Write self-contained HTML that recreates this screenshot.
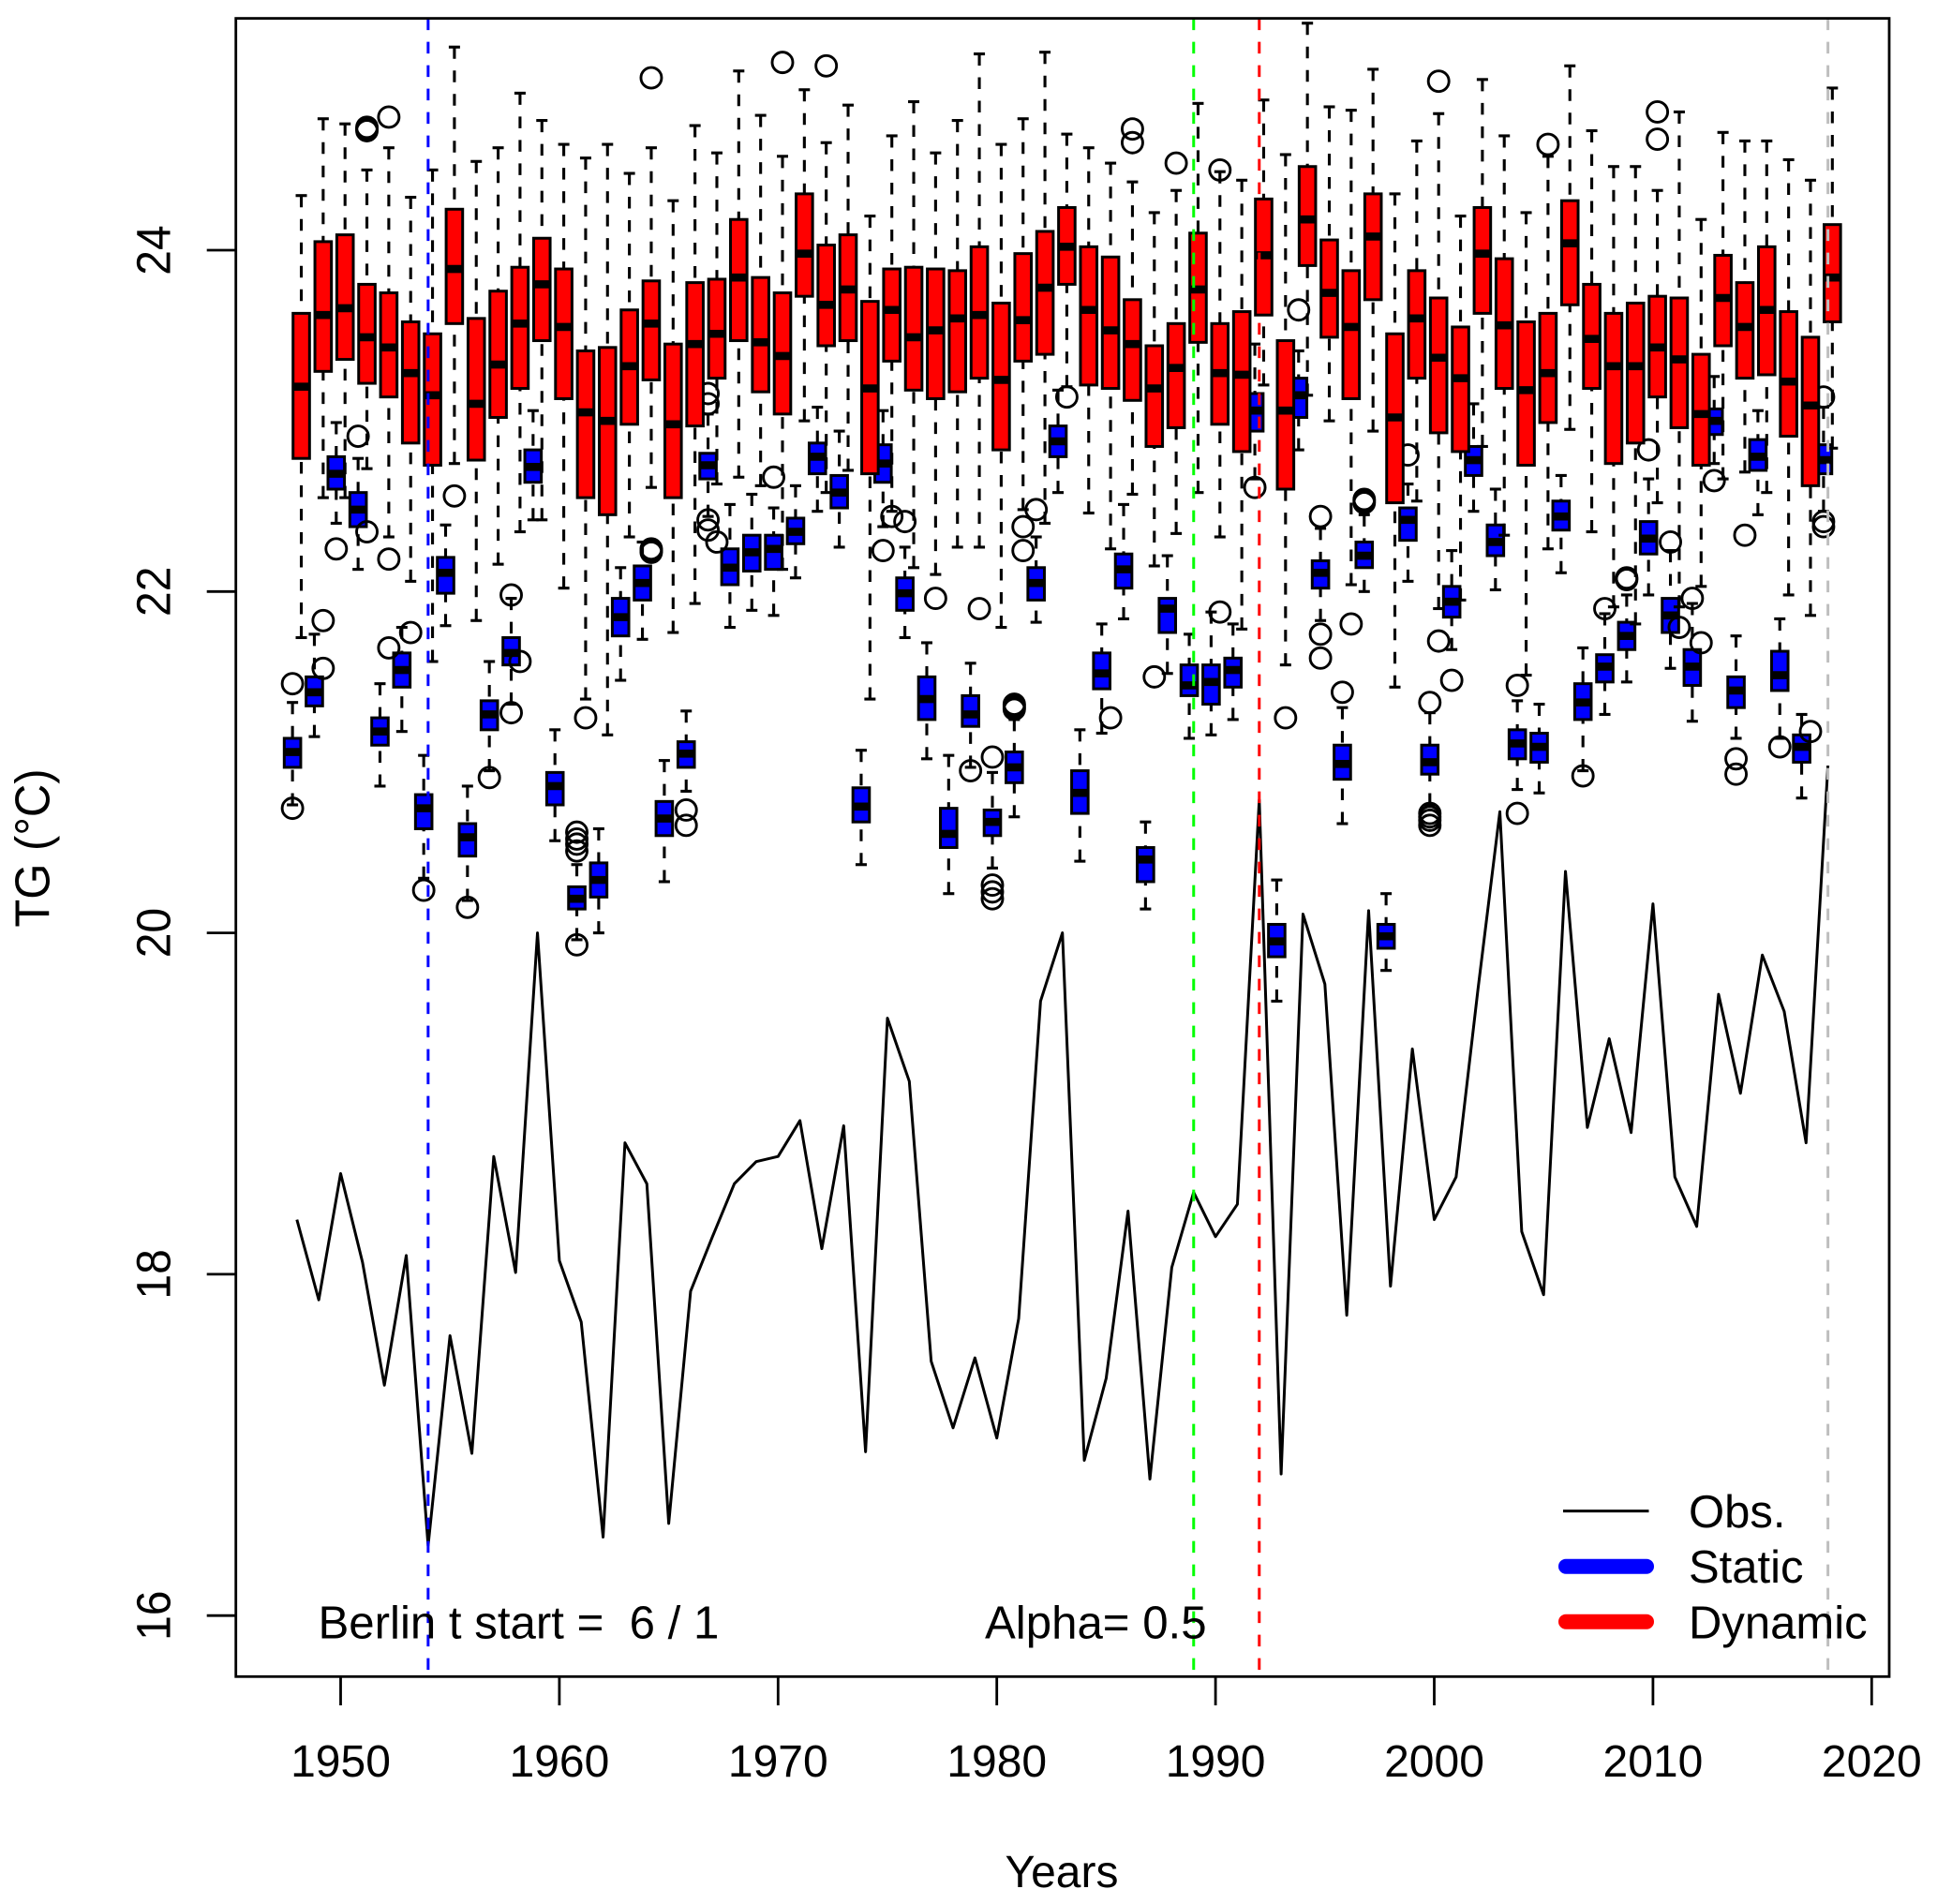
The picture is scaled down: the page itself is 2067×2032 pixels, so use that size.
<!DOCTYPE html>
<html lang="en">
<head>
<meta charset="utf-8">
<title>Berlin TG boxplots</title>
<style>
html,body{margin:0;padding:0;background:#fff;}
svg{display:block;}
text{font-family:"Liberation Sans",Arial,sans-serif;fill:#000;white-space:pre;}
</style>
</head>
<body>
<svg id="chart" xmlns="http://www.w3.org/2000/svg" width="2067" height="2032" viewBox="0 0 2067 2032">
  <rect x="0" y="0" width="2067" height="2032" fill="#fff"/>
  <g id="axes"></g>
  <g id="static-boxes"></g>
  <g id="dynamic-boxes"></g>
  <g id="obs"></g>
  <g id="vlines"></g>
  <rect x="251.7" y="19.6" width="1764.3" height="1769.7" fill="none" stroke="#000" stroke-width="2.8"/>
  <text x="1133" y="2014" font-size="48" text-anchor="middle">Years</text>
  <text transform="translate(52.7,905) rotate(-90) scale(1,1.06)" font-size="49" text-anchor="middle">TG (°C)</text>
  <text x="339.5" y="1748.3" font-size="49.2">Berlin t start =  6 / 1</text>
  <text x="1051" y="1748.3" font-size="49.2">Alpha= 0.5</text>
  <g>
    <line x1="1668" x2="1759.5" y1="1612.6" y2="1612.6" stroke="#000" stroke-width="3"/>
    <line x1="1671" x2="1757" y1="1671.7" y2="1671.7" stroke="#0000ff" stroke-width="16" stroke-linecap="round"/>
    <line x1="1671" x2="1757" y1="1730.7" y2="1730.7" stroke="#ff0000" stroke-width="16" stroke-linecap="round"/>
    <text x="1802" y="1630" font-size="49">Obs.</text>
    <text x="1802" y="1689" font-size="49">Static</text>
    <text x="1802" y="1748.3" font-size="49">Dynamic</text>
  </g>
</svg>
<script>
const xTickLabels = [1950,1960,1970,1980,1990,2000,2010,2020];
const yTickLabels = [16,18,20,22,24];
const firstYear = 1948;
const refYears = [1954,1989,1992,2018];
const refColors = ["#0000ff","#00ff00","#ff0000","#bebebe"];
const refNames = ["static-start-line","green-reference-line","dynamic-start-line","end-reference-line"];

const obsValues = [18.32,17.85,18.59,18.07,17.35,18.11,16.41,17.64,16.95,18.69,18.01,20.00,18.08,17.72,16.46,18.77,18.53,16.54,17.90,18.22,18.53,18.66,18.69,18.90,18.15,18.87,16.96,19.50,19.13,17.49,17.10,17.51,17.04,17.74,19.60,20.00,16.91,17.39,18.37,16.80,18.04,18.48,18.22,18.41,20.78,16.83,20.11,19.70,17.76,20.13,17.93,19.32,18.32,18.57,19.67,20.71,18.25,17.88,20.36,18.86,19.38,18.83,20.17,18.57,18.28,19.64,19.06,19.87,19.54,18.77,20.98];

const dynHigh = [24.32,24.77,24.74,24.47,24.60,24.31,24.47,25.19,24.52,24.60,24.92,24.76,24.62,24.54,24.62,24.45,24.60,24.29,24.73,24.57,25.05,24.79,24.55,24.94,24.63,24.85,24.20,24.67,24.87,24.57,24.76,25.15,24.62,24.77,25.16,24.68,24.60,24.51,24.40,24.22,24.35,24.86,24.46,24.41,24.88,24.56,25.33,24.84,24.82,25.06,24.33,24.64,24.80,24.20,25.00,24.67,24.22,24.55,25.08,24.70,24.49,24.49,24.35,24.81,24.18,24.69,24.64,24.64,24.53,24.41,24.95];
const dynQ3 = [23.63,24.05,24.09,23.80,23.75,23.58,23.51,24.24,23.60,23.76,23.90,24.07,23.89,23.41,23.43,23.65,23.82,23.45,23.81,23.83,24.18,23.84,23.75,24.33,24.03,24.09,23.70,23.89,23.90,23.89,23.88,24.02,23.69,23.98,24.11,24.25,24.02,23.96,23.71,23.44,23.57,24.10,23.57,23.64,24.30,23.47,24.49,24.06,23.88,24.33,23.51,23.88,23.72,23.55,24.25,23.95,23.58,23.63,24.29,23.80,23.63,23.69,23.73,23.72,23.39,23.97,23.81,24.02,23.64,23.49,24.15];
const dynMedian = [23.20,23.62,23.66,23.49,23.43,23.28,23.15,23.89,23.10,23.33,23.57,23.80,23.55,23.05,23.00,23.32,23.57,22.98,23.45,23.51,23.84,23.46,23.38,23.98,23.68,23.77,23.19,23.65,23.49,23.53,23.60,23.62,23.24,23.59,23.78,24.02,23.65,23.53,23.45,23.19,23.31,23.77,23.28,23.27,23.97,23.06,24.18,23.75,23.55,24.08,23.02,23.60,23.37,23.25,23.98,23.56,23.18,23.28,24.04,23.48,23.32,23.32,23.43,23.36,23.04,23.72,23.55,23.65,23.23,23.09,23.84];
const dynQ1 = [22.78,23.29,23.36,23.22,23.14,22.87,22.74,23.57,22.77,23.02,23.19,23.47,23.13,22.55,22.45,22.98,23.24,22.55,22.97,23.25,23.47,23.17,23.04,23.73,23.44,23.47,22.69,23.35,23.18,23.13,23.17,23.25,22.83,23.35,23.39,23.80,23.21,23.19,23.12,22.85,22.96,23.46,22.98,22.82,23.62,22.60,23.91,23.49,23.13,23.71,22.52,23.25,22.93,22.82,23.63,23.19,22.74,22.99,23.68,23.19,22.75,22.87,23.14,22.96,22.74,23.44,23.25,23.27,22.91,22.62,23.58];
const dynLow = [21.73,22.55,22.55,22.72,22.32,22.06,21.59,22.75,21.83,22.16,22.35,22.42,22.02,21.37,21.16,22.32,22.61,21.76,21.93,22.63,22.67,22.62,22.13,23.00,22.58,22.71,21.37,22.47,22.14,22.10,22.26,22.26,21.79,22.48,22.40,23.20,22.46,22.25,22.57,22.15,22.34,22.58,22.32,21.78,23.21,21.57,23.15,23.00,22.04,22.94,21.44,22.53,21.90,21.95,22.85,22.33,21.51,22.25,22.95,22.35,21.91,21.81,22.52,21.91,22.03,22.66,22.70,22.58,21.98,21.86,22.84];
const dynOutlierYears = [1949,1949,1951,1951,1951,1951,1952,1952,1952,1953,1955,1958,1961,1964,1964,1964,1964,1964,1967,1970,1972,1975,1977,1979,1981,1981,1983,1985,1986,1986,1987,1988,1990,1990,1993,1996,2000,2000,2005,2010,2010,2011,2012,2014,2017];
const dynOutlierValues = [21.83,21.55,24.70,24.71,24.72,22.35,24.78,22.19,21.67,21.76,22.56,21.59,21.26,25.01,22.23,22.24,22.24,22.25,22.29,25.10,25.08,22.44,21.96,21.90,22.38,22.24,23.14,21.26,24.71,24.63,21.50,24.51,24.47,21.88,21.26,21.81,24.99,21.71,24.62,24.81,24.65,21.79,21.70,22.33,21.18];

const staHigh = [21.35,21.75,22.99,22.78,21.46,21.79,21.04,22.39,20.86,21.59,21.96,23.06,21.19,20.40,20.61,22.14,22.29,21.01,21.30,23.04,22.51,22.57,22.49,22.62,23.08,22.94,21.07,23.06,22.26,21.70,21.04,21.58,20.94,21.25,22.32,23.18,21.19,21.81,22.51,20.65,22.21,21.75,21.88,21.81,23.45,20.31,23.41,22.37,21.32,22.45,20.23,22.63,21.29,22.24,23.10,22.60,21.36,21.34,22.68,21.67,21.87,21.98,22.66,22.24,21.93,23.26,21.74,23.06,21.84,21.28,23.08];
const staQ3 = [21.14,21.50,22.79,22.58,21.26,21.64,20.81,22.20,20.64,21.36,21.73,22.83,20.94,20.27,20.41,21.96,22.15,20.77,21.12,22.81,22.25,22.33,22.33,22.43,22.87,22.68,20.85,22.86,22.08,21.50,20.73,21.39,20.72,21.06,22.14,22.97,20.95,21.64,22.22,20.50,21.96,21.57,21.57,21.61,23.16,20.05,23.25,22.18,21.10,22.29,20.05,22.49,21.10,22.03,22.85,22.39,21.19,21.17,22.53,21.46,21.63,21.82,22.41,21.96,21.66,23.07,21.50,22.89,21.65,21.16,22.86];
const staMedian = [21.06,21.41,22.69,22.48,21.18,21.54,20.73,22.11,20.56,21.28,21.64,22.73,20.86,20.20,20.31,21.85,22.05,20.67,21.05,22.74,22.14,22.23,22.25,22.35,22.79,22.58,20.74,22.75,21.99,21.37,20.58,21.28,20.65,20.97,22.05,22.88,20.82,21.52,22.13,20.43,21.90,21.45,21.47,21.54,23.06,19.95,23.15,22.11,20.99,22.21,19.98,22.42,21.00,21.94,22.77,22.29,21.11,21.09,22.44,21.35,21.56,21.74,22.31,21.86,21.56,23.00,21.42,22.79,21.51,21.09,22.77];
const staQ1 = [20.97,21.33,22.60,22.38,21.10,21.44,20.61,21.99,20.45,21.19,21.57,22.64,20.75,20.14,20.21,21.74,21.95,20.57,20.97,22.66,22.04,22.12,22.13,22.28,22.69,22.49,20.65,22.64,21.89,21.25,20.50,21.21,20.57,20.88,21.95,22.79,20.70,21.43,22.02,20.30,21.76,21.39,21.34,21.44,22.94,19.86,23.02,22.02,20.90,22.14,19.91,22.30,20.93,21.85,22.68,22.21,21.02,21.00,22.36,21.25,21.47,21.66,22.22,21.76,21.45,22.92,21.32,22.71,21.42,21.00,22.69];
const staLow = [20.75,21.15,22.40,22.13,20.86,21.18,20.32,21.80,20.19,20.95,21.34,22.42,20.54,19.96,20.00,21.48,21.72,20.30,20.83,22.44,21.79,21.89,21.86,22.08,22.47,22.26,20.40,22.38,21.73,21.02,20.23,20.97,20.38,20.68,21.82,22.58,20.42,21.17,21.84,20.14,21.52,21.14,21.16,21.25,22.66,19.60,22.83,21.83,20.64,22.00,19.78,22.06,20.75,21.66,22.47,22.01,20.84,20.82,22.11,20.95,21.28,21.47,21.98,21.55,21.24,22.75,21.14,22.45,21.14,20.79,22.47];
const staOutlierYears = [1948,1948,1950,1951,1954,1956,1957,1958,1958,1961,1961,1961,1961,1961,1966,1966,1967,1967,1967,1967,1970,1975,1976,1979,1980,1980,1980,1980,1981,1981,1981,1981,1982,1992,1994,1995,1995,1995,1996,1997,1997,1997,1999,2000,2000,2000,2000,2000,2001,2004,2004,2007,2008,2009,2009,2010,2011,2012,2013,2014,2014,2016,2018,2018,2018];
const staOutlierValues = [20.73,21.46,22.25,22.91,20.25,20.15,20.91,21.98,21.29,20.59,20.55,20.52,20.48,19.93,20.72,20.63,23.16,23.10,22.42,22.36,22.67,22.24,22.41,20.95,21.03,20.28,20.24,20.20,21.34,21.33,21.32,21.31,22.48,22.61,23.65,22.44,21.75,21.61,21.41,22.52,22.53,22.54,22.80,21.35,20.70,20.68,20.66,20.63,21.48,21.45,20.70,20.92,21.90,22.08,22.07,22.83,22.29,21.96,22.65,21.02,20.93,21.09,23.14,22.41,22.38];

const SVG_NS = "http://www.w3.org/2000/svg";
function xScale(year){ return 363.5 + (year - 1950) * 23.34; }
function yScale(v){ return 267 + (24 - v) * 182.15; }

function make(parent, tag, attrs){
  const el = document.createElementNS(SVG_NS, tag);
  for (const k in attrs) el.setAttribute(k, attrs[k]);
  parent.appendChild(el);
  return el;
}

const axesGroup = document.getElementById("axes");
xTickLabels.forEach(function(t){
  const tick = make(axesGroup, "line", {x1:xScale(t), x2:xScale(t), y1:1789.3, y2:1820, stroke:"#000", "stroke-width":2.8});
  
  
  const label = make(axesGroup, "text", {x:xScale(t), y:1896, "font-size":48, "text-anchor":"middle"});
  label.textContent = String(t);
  
  
});
yTickLabels.forEach(function(t){
  const tick = make(axesGroup, "line", {x1:220.7, x2:251.7, y1:yScale(t), y2:yScale(t), stroke:"#000", "stroke-width":2.8});
  
  
  const label = make(axesGroup, "text", {transform:"translate(181.7," + yScale(t) + ") rotate(-90) scale(1,1.06)", "font-size":48, "text-anchor":"middle"});
  label.textContent = String(t);
  
  
});

function drawOutlier(group, year, value, offset, kind){
  const c = make(group, "circle", {cx:xScale(year)+offset, cy:yScale(value), r:11, fill:"none", stroke:"#000", "stroke-width":2.9});
  
  
}

function drawBoxes(group, high, q3, median, q1, low, offset, color, kind){
  const halfBox = 8.8, halfCap = 6;
  high.forEach(function(h, i){
    const cx = xScale(firstYear + i) + offset;
    const whiskerUp = make(group, "line", {x1:cx, x2:cx, y1:yScale(h), y2:yScale(q3[i]), stroke:"#000", "stroke-width":3.1, "stroke-dasharray":"12.5 12.5"});
    
    
    const whiskerDown = make(group, "line", {x1:cx, x2:cx, y1:yScale(low[i]), y2:yScale(q1[i]), stroke:"#000", "stroke-width":3.1, "stroke-dasharray":"12.5 12.5"});
    
    
    const capUp = make(group, "line", {x1:cx-halfCap, x2:cx+halfCap, y1:yScale(h), y2:yScale(h), stroke:"#000", "stroke-width":3.1});
    
    
    const capDown = make(group, "line", {x1:cx-halfCap, x2:cx+halfCap, y1:yScale(low[i]), y2:yScale(low[i]), stroke:"#000", "stroke-width":3.1});
    
    
    const box = make(group, "rect", {x:cx-halfBox, y:yScale(q3[i]), width:halfBox*2, height:yScale(q1[i])-yScale(q3[i]), fill:color, stroke:"#000", "stroke-width":3});
    
    
    const med = make(group, "line", {x1:cx-halfBox, x2:cx+halfBox, y1:yScale(median[i]), y2:yScale(median[i]), stroke:"#000", "stroke-width":8.6});
    
    
  });
}

const staticGroup = document.getElementById("static-boxes");
const dynamicGroup = document.getElementById("dynamic-boxes");
drawBoxes(staticGroup, staHigh, staQ3, staMedian, staQ1, staLow, -4.7, "#0000ff", "static");
staOutlierYears.forEach(function(y, i){ drawOutlier(staticGroup, y, staOutlierValues[i], -4.7, "static"); });
drawBoxes(dynamicGroup, dynHigh, dynQ3, dynMedian, dynQ1, dynLow, 4.7, "#ff0000", "dynamic");
dynOutlierYears.forEach(function(y, i){ drawOutlier(dynamicGroup, y, dynOutlierValues[i], 4.7, "dynamic"); });

const obsGroup = document.getElementById("obs");
const obsPoints = obsValues.map(function(v, i){ return xScale(firstYear + i) + "," + yScale(v); }).join(" ");
const obsLine = make(obsGroup, "polyline", {points:obsPoints, fill:"none", stroke:"#000", "stroke-width":3, "stroke-linejoin":"round"});



const vlineGroup = document.getElementById("vlines");
refYears.forEach(function(y, i){
  const l = make(vlineGroup, "line", {x1:xScale(y), x2:xScale(y), y1:19.6, y2:1789.3, stroke:refColors[i], "stroke-width":3, "stroke-dasharray":"12.5 12.5"});
  
  
});
</script>
</body>
</html>
